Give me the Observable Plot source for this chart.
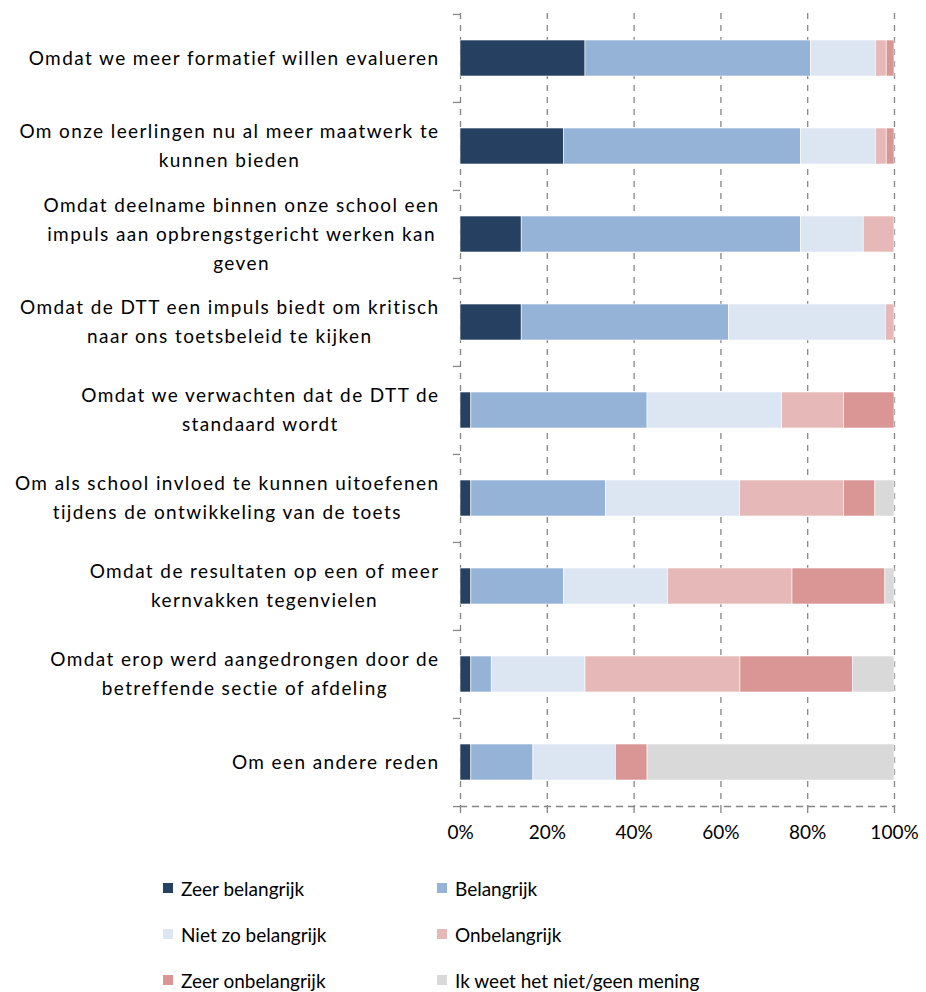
<!DOCTYPE html>
<html>
<head>
<meta charset="utf-8">
<script src="https://cdn.jsdelivr.net/npm/d3@7"></script>
<script src="https://cdn.jsdelivr.net/npm/@observablehq/plot@0.6"></script>
<style>
  body { margin: 0; background: #fff; font-family: Lato, "Open Sans", sans-serif; }
  #chart svg { display: block; }
  .legend { display: grid; grid-template-columns: 274px 300px; margin-left: 163px; row-gap: 0; margin-top: 5px; }
  .legend div { display: flex; align-items: center; height: 46px; font-size: 19px; color: #000; white-space: nowrap; }
  .legend span.sw { width: 10px; height: 10px; margin-right: 8px; display: inline-block; }
</style>
</head>
<body>
<div id="chart"></div>
<div class="legend" id="legend"></div>
<script>
const categories = [
  "Omdat we meer formatief willen evalueren",
  "Om onze leerlingen nu al meer maatwerk te\nkunnen bieden",
  "Omdat deelname binnen onze school een\nimpuls aan opbrengstgericht werken kan\ngeven",
  "Omdat de DTT een impuls biedt om kritisch\nnaar ons toetsbeleid te kijken",
  "Omdat we verwachten dat de DTT de\nstandaard wordt",
  "Om als school invloed te kunnen uitoefenen\ntijdens de ontwikkeling van de toets",
  "Omdat de resultaten op een of meer\nkernvakken tegenvielen",
  "Omdat erop werd aangedrongen door de\nbetreffende sectie of afdeling",
  "Om een andere reden"
];
const seriesNames = ["Zeer belangrijk", "Belangrijk", "Niet zo belangrijk", "Onbelangrijk", "Zeer onbelangrijk", "Ik weet het niet/geen mening"];
const seriesColors = ["#254061", "#95B3D7", "#DCE6F2", "#E6B9B8", "#D99694", "#D9D9D9"];

const zeerBelangrijk   = [28.8, 23.8, 14.1, 14.1,  2.5,  2.5,  2.5,  2.5,  2.5];
const belangrijk       = [52.0, 54.7, 64.4, 47.8, 40.6, 31.0, 21.3,  4.7, 14.3];
const nietZoBelangrijk = [14.9, 17.2, 14.4, 36.1, 31.0, 30.9, 24.0, 21.6, 19.0];
const onbelangrijk     = [ 2.5,  2.5,  7.1,  2.0, 14.3, 24.0, 28.7, 35.7,  0.0];
const zeerOnbelangrijk = [ 1.8,  1.8,  0.0,  0.0, 11.6,  7.2, 21.4, 26.0,  7.3];
const weetNiet         = [ 0.0,  0.0,  0.0,  0.0,  0.0,  4.4,  2.1,  9.5, 56.9];

const xTicks = [0, 20, 40, 60, 80, 100];

const seriesValues = [zeerBelangrijk, belangrijk, nietZoBelangrijk, onbelangrijk, zeerOnbelangrijk, weetNiet];
const data = [];
categories.forEach((c, i) => {
  seriesNames.forEach((s, j) => {
    data.push({category: c, series: s, value: seriesValues[j][i]});
  });
});

const W = 926, H = 860, mT = 13, mB = 54, mL = 460, mR = 32;
const step = (H - mT - mB) / categories.length;
const gray = "#868686";

const plot = Plot.plot({
  width: W,
  height: H,
  marginTop: mT,
  marginBottom: mB,
  marginLeft: mL,
  marginRight: mR,
  style: {fontFamily: "Lato, 'Open Sans', sans-serif", fontSize: "19px", color: "#000", background: "#fff"},
  x: {domain: [0, 100]},
  y: {domain: categories, padding: 0},
  color: {domain: seriesNames, range: seriesColors},
  marks: [
    Plot.ruleX(xTicks, {stroke: gray, strokeWidth: 1.3, strokeDasharray: "6,6"}),
    Plot.frame({anchor: "bottom", stroke: gray, strokeWidth: 1.3, strokeDasharray: "6,6"}),
    Plot.barX(data, Plot.stackX({
      x: "value", y: "category", fill: "series", order: seriesNames,
      insetTop: 26, insetBottom: 26, stroke: "#fff", strokeWidth: 0.6
    })),
    Plot.axisX({ticks: xTicks, tickFormat: d => d + "%", tickSize: 7, tickPadding: 12, stroke: gray, strokeWidth: 1.3, fontSize: 19, label: null}),
    Plot.axisY({ticks: categories, tickSize: 7, tickFormat: () => "", dy: -step / 2, stroke: gray, strokeWidth: 1.3, label: null}),
    Plot.axisY({ticks: categories.slice(-1), tickSize: 7, tickFormat: () => "", dy: step / 2, stroke: gray, strokeWidth: 1.3, label: null}),
    Plot.text(categories, {x: 0, y: d => d, text: d => d, textAnchor: "end", dx: -21, dy: -3, lineHeight: 1.53, fontSize: 19, fill: "#000"})
  ]
});
document.getElementById("chart").appendChild(plot);

// Category labels: letter spacing, then center lines of multi-line labels within a right-aligned block
const flat = categories.map(c => c.replace(/\n/g, ""));
plot.querySelectorAll("text").forEach(t => {
  if (!flat.includes(t.textContent)) return;
  t.style.letterSpacing = "1.4px";
  const spans = t.querySelectorAll("tspan");
  if (spans.length < 2) return;
  let maxW = 0;
  spans.forEach(s => { maxW = Math.max(maxW, s.getComputedTextLength()); });
  t.setAttribute("text-anchor", "middle");
  t.style.textAnchor = "middle";
  spans.forEach(s => s.setAttribute("x", -maxW / 2));
});

const legend = document.getElementById("legend");
seriesNames.forEach((s, j) => {
  const d = document.createElement("div");
  const sw = document.createElement("span");
  sw.className = "sw";
  sw.style.background = seriesColors[j];
  d.appendChild(sw);
  d.appendChild(document.createTextNode(s));
  legend.appendChild(d);
});
</script>
</body>
</html>
